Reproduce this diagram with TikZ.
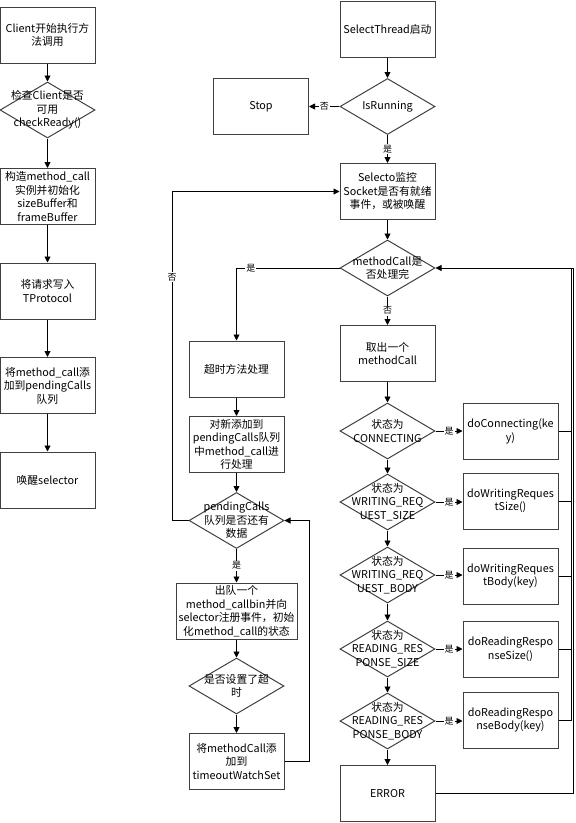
\documentclass[tikz,border=0pt]{standalone}
\usepackage{fontspec}
\setmainfont{Noto Sans CJK SC}
\usetikzlibrary{shapes.geometric,arrows.meta}
\newcommand\mainfs{\fontsize{10.8}{13.5}\selectfont}
\newcommand\lblfs{\fontsize{9}{10}\selectfont}
\begin{document}
\begin{tikzpicture}[x=1pt,y=-1pt,
  box/.style={draw=black!75, line width=1pt, fill=white, minimum width=95pt, minimum height=56pt, inner sep=1pt, align=center, font=\mainfs},
  dia/.style={draw=black!75, line width=1pt, diamond, minimum width=95pt, minimum height=56pt, inner sep=0pt},
  txt/.style={align=center, font=\mainfs, inner sep=0pt},
  lbl/.style={fill=white, inner sep=1pt, font=\lblfs},
  arr/.style={-{Triangle[length=6pt,width=6pt]}, line width=0.9pt},
  ln/.style={line width=0.9pt}]
\useasboundingbox (0,0) rectangle (576,823);
% left column
\node[box] (c1) at (47.5,35) {Client开始执行方\\法调用};
\node[dia] (c2) at (47.5,110) {};
\node[txt] (c2t) at (c2) {检查Client是否\\可用\\checkReady()};
\node[box] (c3) at (47.5,196.5) {构造method\_call\\实例并初始化\\sizeBuffer和\\frameBuffer};
\node[box] (c4) at (47.5,291) {将请求写入\\TProtocol};
\node[box] (c5) at (47.5,385.5) {将method\_call添\\加到pendingCalls\\队列};
\node[box] (c6) at (47.5,480) {唤醒selector};
\draw[arr] (c1) -- (c2);
\draw[arr] (c2) -- (c3);
\draw[arr] (c3) -- (c4);
\draw[arr] (c4) -- (c5);
\draw[arr] (c5) -- (c6);
% main column
\node[box] (s1) at (387.5,29) {SelectThread启动};
\node[dia] (s2) at (387.5,106.5) {};
\node[txt] (s2t) at (s2) {IsRunning};
\node[box] (stop) at (261,106.5) {Stop};
\node[box] (s3) at (387.5,191.5) {Selecto监控\\Socket是否有就绪\\事件，或被唤醒};
\node[dia] (s4) at (387.5,268) {};
\node[txt] (s4t) at (s4) {methodCall是\\否处理完};
\node[box] (s5) at (387.5,353.5) {取出一个\\methodCall};
\node[dia] (d1) at (387.5,431) {};
\node[txt] (d1t) at (d1) {状态为\\CONNECTING};
\node[dia] (d2) at (387.5,502) {};
\node[txt] (d2t) at (d2) {状态为\\WRITING\_REQ\\UEST\_SIZE};
\node[dia] (d3) at (387.5,575) {};
\node[txt] (d3t) at (d3) {状态为\\WRITING\_REQ\\UEST\_BODY};
\node[dia] (d4) at (387.5,649) {};
\node[txt] (d4t) at (d4) {状态为\\READING\_RES\\PONSE\_SIZE};
\node[dia] (d5) at (387.5,721) {};
\node[txt] (d5t) at (d5) {状态为\\READING\_RES\\PONSE\_BODY};
\node[box] (err) at (387.5,793.5) {ERROR};
% right boxes
\node[box] (r1) at (510.5,431.5) {doConnecting(ke\\y)};
\node[box] (r2) at (510.5,501) {doWritingReques\\tSize()};
\node[box] (r3) at (510.5,576) {doWritingReques\\tBody(key)};
\node[box] (r4) at (510.5,649.5) {doReadingRespo\\nseSize()};
\node[box] (r5) at (510.5,720) {doReadingRespo\\nseBody(key)};
% left-middle column
\node[box] (m1) at (236.5,369) {超时方法处理};
\node[box] (m2) at (236.5,444.5) {对新添加到\\pendingCalls队列\\中method\_call进\\行处理};
\node[dia] (m3) at (236.5,520.5) {};
\node[txt] (m3t) at (m3) {pendingCalls\\队列是否还有\\数据};
\node[box, minimum width=121pt] (m4) at (236.5,611) {出队一个\\method\_callbin并向\\selector注册事件，初始\\化method\_call的状态};
\node[dia] (m5) at (236.5,686) {};
\node[txt] (m5t) at (m5) {是否设置了超\\时};
\node[box] (m6) at (236.5,761.5) {将methodCall添\\加到\\timeoutWatchSet};
% connectors main
\draw[arr] (s1) -- (s2);
\draw[arr] (s2) -- node[lbl]{否} (stop);
\draw[arr] (s2) -- node[lbl]{是} (s3);
\draw[arr] (s3) -- (s4);
\draw[arr] (s4) -- node[lbl]{否} (s5);
\draw[arr] (s4.west) -| node[lbl,pos=0.43]{是} (m1.north);
\draw[arr] (s5) -- (d1);
\draw[arr] (d1) -- (d2);
\draw[arr] (d2) -- (d3);
\draw[arr] (d3) -- (d4);
\draw[arr] (d4) -- (d5);
\draw[arr] (d5) -- (err);
\draw[arr] (d1.east) -- node[lbl]{是} (r1.west |- d1.east);
\draw[arr] (d2.east) -- node[lbl]{是} (r2.west |- d2.east);
\draw[arr] (d3.east) -- node[lbl]{是} (r3.west |- d3.east);
\draw[arr] (d4.east) -- node[lbl]{是} (r4.west |- d4.east);
\draw[arr] (d5.east) -- node[lbl]{是} (r5.west |- d5.east);
% return buses
\coordinate (bus1top) at (571,268);
\coordinate (bus2top) at (573.5,268);
\draw[ln] (r5.east) -| (bus1top);
\draw[ln] (r1.east) -- (r1.east -| bus1top);
\draw[ln] (r2.east) -- (r2.east -| bus1top);
\draw[ln] (r3.east) -- (r3.east -| bus1top);
\draw[ln] (r4.east) -- (r4.east -| bus1top);
\draw[arr] (err.east) -| (bus2top) -- (s4.east);
% left-middle connectors
\draw[arr] (m1) -- (m2);
\draw[arr] (m2) -- (m3);
\draw[arr] (m3) -- node[lbl]{是} (m4);
\draw[arr] (m4) -- (m5);
\draw[arr] (m5) -- (m6);
\coordinate (lp1) at (172,520.5);
\draw[arr] (m3.west) -- (lp1) |- node[lbl,pos=0.37]{否} (s3.west);
\coordinate (lp2) at (309,761.5);
\draw[arr] (m6.east) -- (lp2) |- (m3.east);
\end{tikzpicture}
\end{document}
